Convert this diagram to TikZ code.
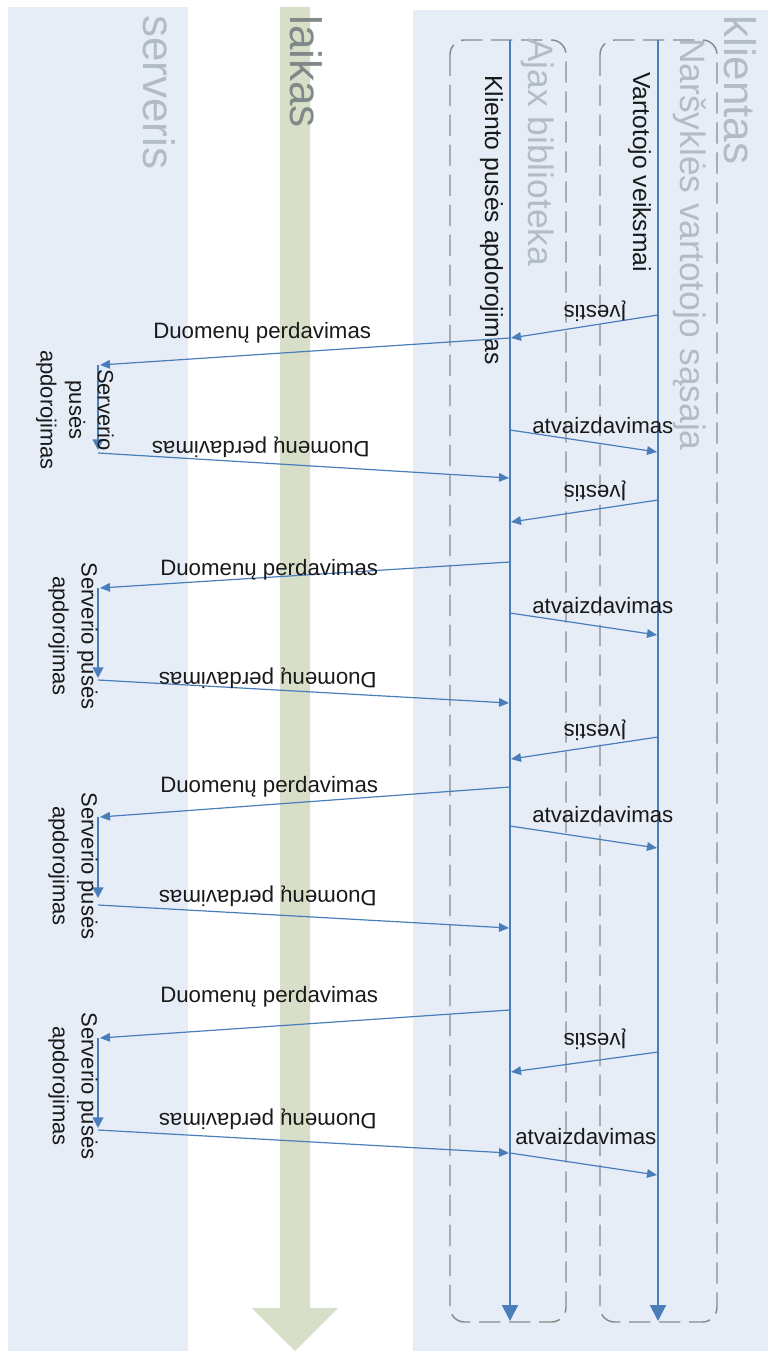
\documentclass[tikz,border=0pt]{standalone}
\usepackage{fontspec}
\setmainfont{Liberation Sans}
\usetikzlibrary{arrows.meta,positioning}
\definecolor{bandblue}{RGB}{230,237,247}
\definecolor{timegreen}{RGB}{216,223,201}
\definecolor{flowblue}{RGB}{74,126,187}
\definecolor{lanegray}{RGB}{178,188,198}
\definecolor{timegray}{RGB}{128,136,136}
\definecolor{dashgray}{RGB}{138,138,138}
\definecolor{inkgray}{RGB}{25,25,25}

\begin{document}
\begin{tikzpicture}[x=0.75pt,y=-0.75pt,
  lane/.style={rotate=-90,anchor=base west,inner sep=0pt,text=lanegray,font=\fontsize{33}{40}\selectfont},
  sublane/.style={lane,font=\fontsize{26.5}{32}\selectfont},
  actor/.style={rotate=-90,anchor=base west,inner sep=0pt,text=inkgray,font=\fontsize{18.5}{22}\selectfont},
  lab/.style={anchor=base west,inner sep=0pt,text=inkgray,font=\fontsize{16.7}{20}\selectfont},
  backlab/.style={lab,rotate=180},
  proc/.style={rotate=-90,align=center,inner sep=0pt,text=inkgray,font=\fontsize{16.5}{21.5}\selectfont},
  dbox/.style={draw=dashgray,line width=1.1pt,dash pattern=on 16pt off 6.5pt,rounded corners=11pt},
  life/.style={draw=flowblue,line width=1.5pt,-{Triangle[length=12pt,width=12pt]}},
  msg/.style={draw=flowblue,line width=0.9pt,-{Triangle[length=7.5pt,width=6.5pt]}},
  srv/.style={draw=flowblue,line width=1.6pt,-{Triangle[length=8pt,width=8pt]}}]
  \useasboundingbox (0,0) rectangle (768,1351);
  % background bands
  \fill[bandblue] (8,7) rectangle (188,1351);
  \fill[bandblue] (413,10) rectangle (768,1351);
  \fill[timegreen] (280,7) -- (310,7) -- (310,1308) -- (338,1308) -- (295,1351)
    -- (252,1308) -- (280,1308) -- cycle;
  \node[lane] (serveris) at (143,15) {serveris};
  \node[lane,text=timegray] (laikas) at (290,15) {laikas};
  \node[lane] (klientas) at (724,15) {klientas};
  % dashed frames
  \draw[dbox] (450,40) rectangle (566,1322);
  \draw[dbox] (600,40) rectangle (717,1322);
  \node[sublane] (ajax) at (528,38) {Ajax biblioteka};
  \node[sublane] (narsykle) at (680,38) {Naršyklės vartotojo sąsaja};
  % lifelines
  \coordinate (ajaxtop) at (510,40);
  \coordinate (ajaxbot) at (510,1321);
  \coordinate (uitop) at (658,40);
  \coordinate (uibot) at (658,1321);
  \draw[life] (ajaxtop) -- (ajaxbot);
  \draw[life] (uitop) -- (uibot);
  \node[actor] (kliento) at (485,75) {Kliento pusės apdorojimas};
  \node[actor] (vartotojo) at (633,72) {Vartotojo veiksmai};
  % user input
  \foreach \i/\ya/\yb/\yt in {1/315/338/306,2/500/522/485,3/737/759/724,4/1052/1072/1033}{
    \coordinate (in\i) at (658,\ya);
    \coordinate (inend\i) at (511,\yb);
    \draw[msg] (in\i) -- (inend\i);
    \node[backlab] (ivestis\i) at (627,\yt) {Įvestis};
  }
  % server round trips
  \foreach \i/\ya/\yb/\ys/\yr/\yre/\xl/\yl/\xr/\yrl in {
      1/338/365/450/453/478/153/339/370/441,
      2/562/588/678/680/703/160/575/377/672,
      3/787/817/898/905/928/160/792/377/890,
      4/1010/1038/1128/1130/1153/160/1002/377/1113}{
    \coordinate (req\i) at (510,\ya);
    \coordinate (srvin\i) at (100,\yb);
    \coordinate (srvtop\i) at (98,\yb);
    \coordinate (srvbot\i) at (98,\ys);
    \coordinate (srvout\i) at (98,\yr);
    \coordinate (resp\i) at (509,\yre);
    \draw[msg] (req\i) -- (srvin\i);
    \draw[srv] (srvtop\i) -- (srvbot\i);
    \draw[msg] (srvout\i) -- (resp\i);
    \node[lab] (dsend\i) at (\xl,\yl) {Duomenų perdavimas};
    \node[backlab] (dback\i) at (\xr,\yrl) {Duomenų perdavimas};
  }
  \node[proc] (proc1) at (75,410) {Serverio\\pusės\\apdorojimas};
  \foreach \i/\yc in {2/636,3/866,4/1086}
    \node[proc] (proc\i) at (73,\yc) {Serverio pusės\\apdorojimas};
  % rendering
  \foreach \i/\ya/\yb/\xt/\yt in {1/430/452/532/433,2/613/635/532/613,3/826/848/532/822,4/1153/1175/515/1144}{
    \coordinate (show\i) at (510,\ya);
    \coordinate (showend\i) at (657,\yb);
    \draw[msg] (show\i) -- (showend\i);
    \node[lab] (atv\i) at (\xt,\yt) {atvaizdavimas};
  }
\end{tikzpicture}
\end{document}
